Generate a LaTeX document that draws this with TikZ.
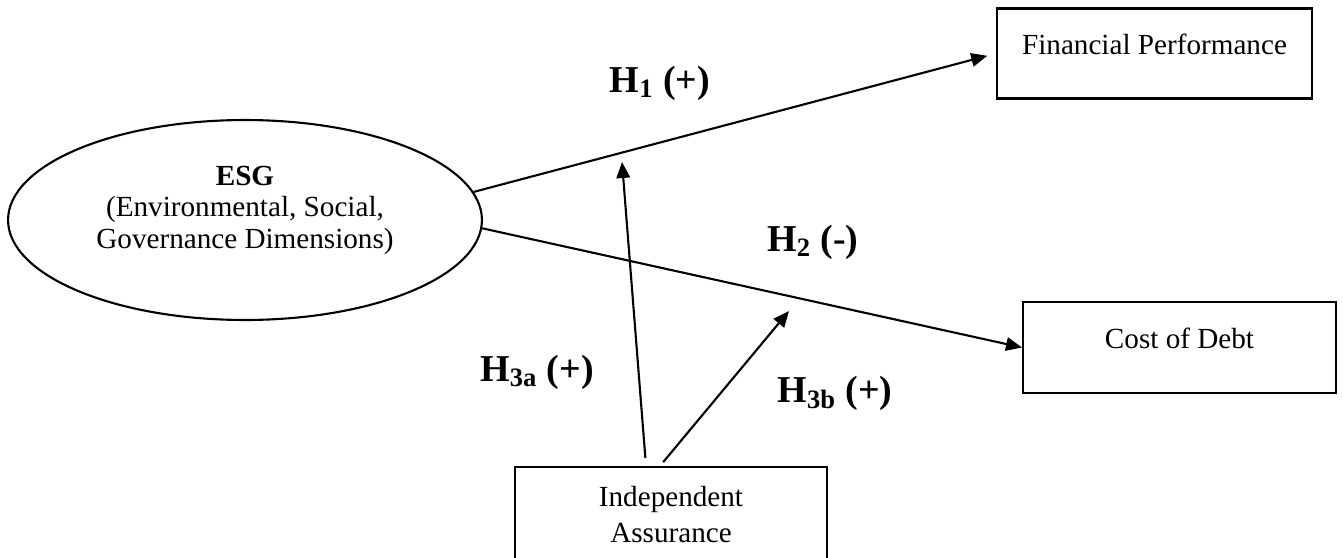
\documentclass[tikz,border=0pt]{standalone}
\usepackage{fontspec}
\setmainfont{Liberation Serif}
\usetikzlibrary{arrows.meta}
\usetikzlibrary{shapes.geometric}

\begin{document}
\begin{tikzpicture}[x=0.02cm, y=-0.02cm,
    varbox/.style={draw, line width=1.2pt, minimum width=6.3cm, minimum height=1.8cm, align=center, font=\fontsize{16.6}{20.5}\selectfont},
    hyplabel/.style={font=\fontsize{21.6}{24}\selectfont\bfseries},
    link/.style={-{Triangle[length=0.32cm, width=0.27cm]}, line width=1.2pt}]
    % Fix page size to the reference (1343 x 558 px)
    \useasboundingbox (0, 0) rectangle (1343, 558);
    \clip (0, 0) rectangle (1343, 558);

    % Construct on the left
    \node[draw, ellipse, line width=1.2pt, minimum width=9.48cm, minimum height=4cm, inner sep=0pt] (esg) at (245, 220) {};
    \node[align=center, font=\fontsize{16.6}{17.9}\selectfont] (esgtext) at (245, 210) {\textbf{ESG}\\(Environmental, Social,\\Governance Dimensions)};

    % Outcome boxes and moderator
    \node[varbox, text depth=0.36cm] (fp) at (1154.5, 53.5) {Financial Performance};
    \node[varbox, minimum width=6.26cm, minimum height=1.82cm, text depth=0.36cm] (cod) at (1179.5, 347.5) {Cost of Debt};
    \node[varbox, minimum width=6.24cm, minimum height=1.92cm] (ia) at (671, 515) {Independent\\Assurance};

    % Moderating arrows end short of the main paths
    \coordinate (h3atip) at (622, 162);
    \coordinate (h3btip) at (789, 311);

    % Main paths
    \draw[link, shorten >=0.18cm] (esg.7) -- (fp.west);
    \draw[link] (esg.-2) -- (cod.west);
    \draw[link, shorten <=0.16cm] ([xshift=-0.5cm]ia.north) -- (h3atip);
    \draw[link, shorten <=0.1cm] ([xshift=-0.22cm]ia.north) -- (h3btip);

    % Hypothesis labels
    \node[hyplabel] (h1) at (660, 83) {H\textsubscript{1} (+)};
    \node[hyplabel] (h2) at (813, 242) {H\textsubscript{2} (-)};
    \node[hyplabel] (h3a) at (537, 372) {H\textsubscript{3a} (+)};
    \node[hyplabel] (h3b) at (835, 393) {H\textsubscript{3b} (+)};
\end{tikzpicture}
\end{document}
